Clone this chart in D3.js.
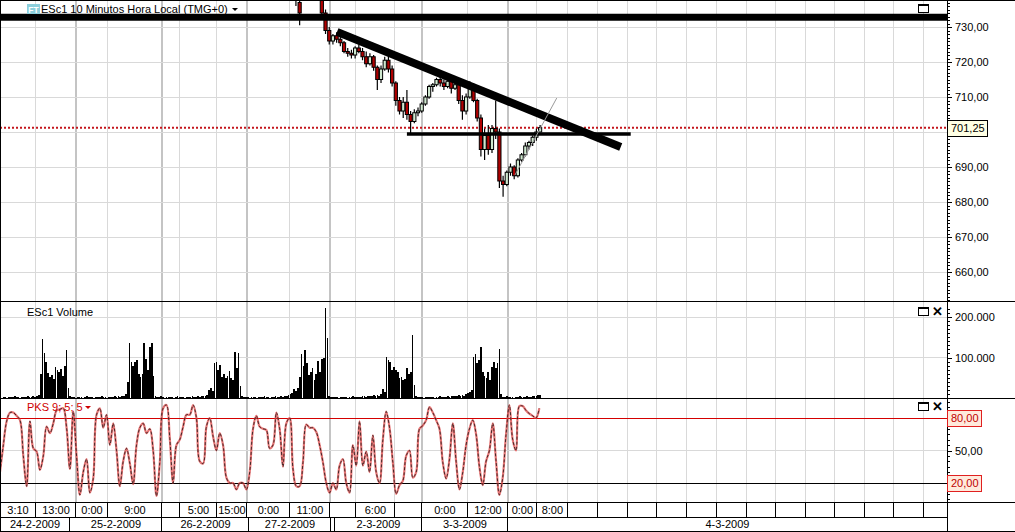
<!DOCTYPE html>
<html><head><meta charset="utf-8">
<script src="https://cdn.jsdelivr.net/npm/d3@7"></script>
<style>
body{margin:0;background:#fff;}
svg{display:block;font-family:"Liberation Sans",Arial,sans-serif;}
</style></head><body>
<svg id="c" width="1015" height="532"></svg>
<script>
// ---------- DATA ----------
const title = "ESc1 10 Minutos Hora Local (TMG+0)";
const volumeTitle = "ESc1 Volume";
const pksTitle = "PKS 9; 5; 5";
// time axis (hours along the chart, weekend compressed)
const timeTickHours  = [0, 9.73, 20.54, 29.19, 43.78, 48.65, 58.65, 66.76, 78.38, 89.19, 96.22, 106.76, 114.05, 126.49, 137.30, 145.14, 153.5, 161.6, 169.7, 177.6, 185.7, 193.8, 201.9, 209.7, 217.8, 225.7, 233.8, 241.6, 249.7];
const timeTickLabels = ["3:10","13:00","0:00","9:00","","5:00","15:00","0:00","11:00","","6:00","","0:00","12:00","0:00","8:00","","","","","","","","","","","","",""];
const dayBreakHours = [20.54, 43.78, 66.76, 89.19, 114.05, 137.30];
const dateCellHours  = [0, 18.9, 43.78, 67.3, 89.46, 90.54, 114.05, 137.30, 256];
const dateCellLabels = ["24-2-2009","25-2-2009","26-2-2009","27-2-2009","","2-3-2009","3-3-2009","4-3-2009"];
const timeDomain = [0, 256];

// price
const priceDomain = [650, 730];
const priceLabels = [730, 720, 710, 690, 680, 670, 660];
const priceGrid = [730, 720, 710, 700, 690, 680, 670, 660];
const lastPrice = 701.25;
const candleStartHour = 80;   // one candle per hour
const candles = [ // [open, high, low, close]
[740,742,736,738],[737,740,730.5,734],[739,744,738.5,743],[743,746,741,745],[745,748,743,744],
[744,746,741,742],[742,744,739,740],[739,741,733,734],[734,735,728,729],[729,730,725,726],
[726,728,725,727.5],[727.5,728.5,725.5,726.5],[726.5,727.5,724.5,725.5],[725.5,726,722.5,723],[723,724,721.5,722.5],
[722.5,723.5,721,722],[722,724.5,721,724],[724,725,722.5,723],[723,724,720.5,721.5],[721.5,723,718.5,719.5],
[719.5,722.5,719,721.5],[721.5,722,717.5,718.5],[718.5,719,712,715],[715,719,714,718],[718,721.5,717.5,720.5],
[720.5,722.5,717,718],[718,719,713,714],[714,714.5,707.5,709],[709,710,705,706],[706,710,704,708.5],
[708.5,712,703.5,705],[705,706,699.5,703],[703,706.5,702.5,705.5],[705.5,707,704.5,706],[706,708.5,705.5,708],
[708,710.5,707.5,710],[710,713.5,709.5,713],[713,714,711.5,713.5],[713.5,715.5,713,715],[715,716,713,714],
[714,715,712,713],[713,715,712.5,714.5],[714.5,715,711,712.5],[712.5,714,712,713.5],[713.5,714,708,709],
[709,710.5,703.5,706],[706,711,705,710],[710,714.5,709.5,713],[713,714,708.5,709],[709,709.5,703,704],
[704,705,693,695],[695,701,692,699],[699,702,693.5,695],[695,702,694,701],[701,709,698,700],
[700,701,684,686],[686,687.5,681.5,685],[685,689,684.5,688.5],[688.5,691,687.5,690],[690,690.5,686.5,687.5],
[687.5,692.5,687,692],[692,694,691.5,693.5],[693.5,697,693,696],[696,697.5,695,697],[697,699,696,698.5],
[698.5,701,697.5,700],[700,702,700,701.25]
];
// drawn lines [hour, price]
const resistanceLine = [[0, 732.8], [256, 732.8]];
const downTrend = [[91.1, 728.6], [167.8, 695.7]];
const supportLine = [[110, 699.4], [170.5, 699.4]];
const thinTrend = [[139.2, 687.7], [150.5, 709.7]];

// volume (thousands), one bar per half hour
const volumeStepHours = 0.5;
const volumeDomain = [0, 200];
const volumeLabels = [200, 100];
const volume = [
2,1,3,2,1,2,3,2,4,2,3,1,2,3,2,5,3,2,4,3,6,8,
60,146,110,89,62,52,58,48,77,70,64,72,55,80,118,25,
4,2,3,1,2,3,2,1,2,4,2,3,2,1,2,3,2,4,3,2,1,2,3,2,4,3,5,3,4,6,10,
40,136,90,80,88,95,60,52,60,136,96,70,127,136,55,5,
3,2,4,2,1,3,2,2,3,1,2,4,2,3,2,1,2,3,2,4,3,2,5,3,4,6,5,8,
20,24,18,86,89,70,81,52,60,49,55,67,50,45,114,75,112,30,
4,2,3,2,1,2,3,2,1,3,2,2,4,3,2,1,2,3,5,2,3,4,3,6,5,8,10,
12,21,18,25,52,109,80,118,86,57,65,75,45,60,91,64,96,100,222,148,5,
3,2,2,3,1,2,3,2,2,1,3,2,4,2,3,2,3,5,4,3,6,5,4,7,5,8,6,9,
21,15,101,95,88,69,77,70,64,49,52,45,48,74,60,64,156,31,
4,2,3,2,1,3,2,2,3,2,1,2,3,4,2,3,2,5,3,4,6,4,5,7,6,8,6,9,12,15,20,
101,109,86,95,127,64,55,49,64,45,77,88,75,86,122,10,
3,2,4,2,3,2,1,3,2,4,3,2,3,4,2,3,5,4,6,8,7
];

// PKS oscillator
const pksStepHours = 0.9;
const pksDomain = [20, 80];
const pksLabelsPlain = [50];
const pksLevels = [80, 20];
const pks = [
30,55,77,85,85,82,78,45,17,77,52,49,32,45,72,66,75,87,88,89,71,33,86,45,9,30,42,11,24,83,
89,71,83,55,75,50,17,40,52,38,19,55,71,75,66,70,50,8,39,89,92,61,20,55,60,72,83,83,92,80,
40,38,72,80,63,50,66,55,25,20,20,14,20,20,14,30,70,82,72,70,69,52,55,85,70,35,75,80,33,17,
17,39,74,71,71,67,55,39,20,11,20,14,36,42,20,11,
55,36,77,36,49,30,64,30,20,60,86,71,39,10,18,22,45,50,25,30,70,73,78,90,85,78,70,39,24,42,
75,40,14,30,55,70,78,65,35,18,40,50,75,40,9,25,65,92,60,50,91,91,87,84,82,80,89
];

// ---------- LAYOUT ----------
const AX = 947;
const MAIN = [0, 301.5], VOL = [301.5, 398.5], PKS = [398.5, 502], AXIS = [502, 531.5];

const x  = d3.scaleLinear().domain(timeDomain).range([0, AX]);
const yP = d3.scaleLinear().domain(priceDomain).range([307, 27]);
const yV = d3.scaleLinear().domain(volumeDomain).range([398, 317]);
const yK = d3.scaleLinear().domain(pksDomain).range([483, 418]);

const loc = d3.formatLocale({decimal:",", thousands:".", grouping:[3], currency:["",""]});
const fPrice = loc.format(".2f"), fVol = loc.format(",d");

const svg = d3.select("#c");
svg.append("rect").attr("width",1015).attr("height",532).attr("fill","#fff");
const defs = svg.append("defs");
function clip(id, r){ defs.append("clipPath").attr("id",id).append("rect")
  .attr("x",0).attr("y",r[0]).attr("width",AX).attr("height",r[1]-r[0]); }
clip("cm", MAIN); clip("cv", VOL); clip("ck", PKS);

// ---------- GRID ----------
const grid = svg.append("g").attr("shape-rendering","crispEdges");
timeTickHours.forEach(h=>{
  if (h <= 0) return;
  const day = dayBreakHours.includes(h);
  grid.append("line").attr("x1",x(h)).attr("x2",x(h)).attr("y1",0).attr("y2",AXIS[0])
    .attr("stroke", day ? "#c4c4c4" : "#d9d9d9").attr("stroke-width", day ? 2 : 1);
});
priceGrid.forEach(p=> grid.append("line").attr("x1",0).attr("x2",AX).attr("y1",yP(p)).attr("y2",yP(p)).attr("stroke","#d9d9d9"));
volumeLabels.forEach(v=> grid.append("line").attr("x1",0).attr("x2",AX).attr("y1",yV(v)).attr("y2",yV(v)).attr("stroke","#d9d9d9"));
pksLabelsPlain.forEach(v=> grid.append("line").attr("x1",0).attr("x2",AX).attr("y1",yK(v)).attr("y2",yK(v)).attr("stroke","#d9d9d9"));

// ---------- MAIN: candles ----------
const gm = svg.append("g").attr("clip-path","url(#cm)");
const line = d3.line().x(d=>x(d[0])).y(d=>yP(d[1]));
gm.append("line").attr("x1",0).attr("x2",AX).attr("y1",yP(lastPrice)).attr("y2",yP(lastPrice))
  .attr("stroke","#c4161c").attr("stroke-width",2).attr("stroke-dasharray","2,2");
const cg = gm.append("g");
candles.forEach((c,i)=>{
  const h = candleStartHour + i, cx = x(h);
  const [o,hi,lo,cl] = c;
  cg.append("line").attr("x1",cx).attr("x2",cx).attr("y1",yP(hi)).attr("y2",yP(lo)).attr("stroke","#000").attr("stroke-width",1.2);
  const top = yP(Math.max(o,cl)), bot = yP(Math.min(o,cl));
  cg.append("rect").attr("x",cx-1.6).attr("y",top).attr("width",3.2).attr("height",Math.max(1,bot-top))
    .attr("fill", cl < o ? "#b00000" : "#cfe8cf").attr("stroke","#000").attr("stroke-width",1);
});
gm.append("path").attr("d",line(resistanceLine)).attr("stroke","#000").attr("stroke-width",7).attr("fill","none");
gm.append("path").attr("d",line(downTrend)).attr("stroke","#000").attr("stroke-width",8).attr("fill","none");
gm.append("path").attr("d",line(supportLine)).attr("stroke","#000").attr("stroke-width",3.5).attr("fill","none");
gm.append("path").attr("d",line(thinTrend)).attr("stroke","#9a9a9a").attr("stroke-width",1).attr("fill","none");

// ---------- VOLUME ----------
svg.append("g").attr("clip-path","url(#cv)").attr("shape-rendering","crispEdges")
  .selectAll("rect").data(volume).join("rect")
  .attr("x",(d,i)=>x(i*volumeStepHours)-0.8).attr("width",1.7)
  .attr("y",d=>yV(d)).attr("height",d=>yV(0)-yV(d)).attr("fill","#000");

// ---------- PKS ----------
const gk = svg.append("g").attr("clip-path","url(#ck)");
pksLevels.forEach((v,i)=> gk.append("line").attr("x1",0).attr("x2",AX).attr("y1",yK(v)).attr("y2",yK(v))
  .attr("stroke", i===0 ? "#d40000" : "#000").attr("stroke-width",1).attr("shape-rendering","crispEdges"));
const kLine = d3.line().x((d,i)=>x(i*pksStepHours)).y(d=>yK(d)).curve(d3.curveCatmullRom.alpha(0.5));
gk.append("path").attr("d",kLine(pks)).attr("fill","none").attr("stroke","#e04848").attr("stroke-width",2.2).attr("opacity",0.75);
gk.append("path").attr("d",kLine(pks)).attr("fill","none").attr("stroke","#111").attr("stroke-width",0.9).attr("stroke-dasharray","3,2").attr("opacity",0.85);

// ---------- FRAME ----------
const fr = svg.append("g").attr("stroke","#000").attr("shape-rendering","crispEdges");
[0.5, VOL[0], PKS[0], AXIS[0], AXIS[1]].forEach(y=> fr.append("line").attr("x1",0).attr("x2",1015).attr("y1",y).attr("y2",y));
fr.append("line").attr("x1",0).attr("x2",AX).attr("y1",517).attr("y2",517);
fr.append("line").attr("x1",0.5).attr("x2",0.5).attr("y1",0).attr("y2",532);
fr.append("line").attr("x1",AX+0.5).attr("x2",AX+0.5).attr("y1",0).attr("y2",532);

// ---------- RIGHT AXES ----------
function styleAxis(g){ g.select(".domain").remove(); g.selectAll("line").attr("stroke","#000").attr("shape-rendering","crispEdges");
  g.selectAll("text").attr("font-size",11).attr("fill","#000").attr("font-family","Liberation Sans, Arial, sans-serif"); }
// price
svg.append("g").attr("transform",`translate(${AX},0)`)
  .call(d3.axisRight(yP).tickValues(d3.range(652,738,1)).tickSize(3).tickFormat("")).call(styleAxis);
svg.append("g").attr("transform",`translate(${AX},0)`)
  .call(d3.axisRight(yP).tickValues(priceLabels).tickSize(5).tickPadding(3).tickFormat(fPrice)).call(styleAxis);
// volume
svg.append("g").attr("transform",`translate(${AX},0)`)
  .call(d3.axisRight(yV).tickValues(d3.range(10,230,10)).tickSize(3).tickFormat("")).call(styleAxis);
svg.append("g").attr("transform",`translate(${AX},0)`)
  .call(d3.axisRight(yV).tickValues(volumeLabels).tickSize(5).tickPadding(3).tickFormat(d=>fVol(d*1000))).call(styleAxis);
// pks
svg.append("g").attr("transform",`translate(${AX},0)`)
  .call(d3.axisRight(yK).tickValues(d3.range(5,100,5)).tickSize(3).tickFormat("")).call(styleAxis);
svg.append("g").attr("transform",`translate(${AX},0)`)
  .call(d3.axisRight(yK).tickValues(pksLabelsPlain).tickSize(5).tickPadding(3).tickFormat(fPrice)).call(styleAxis);

// value boxes
function box(y, txt, fill, stroke, color, w){
  const g = svg.append("g");
  g.append("rect").attr("x",AX+0.5).attr("y",Math.round(y)-7.5).attr("width",w).attr("height",16)
    .attr("fill",fill).attr("stroke",stroke).attr("shape-rendering","crispEdges");
  g.append("text").attr("x",AX+4).attr("y",y).attr("dy","0.36em").attr("font-size",11).attr("fill",color).text(txt);
}
box(yP(lastPrice), fPrice(lastPrice), "#ffffe4", "#000", "#000", 40);
box(yK(pksLevels[0]), fPrice(pksLevels[0]), "#ffeadc", "#e02020", "#c00000", 34);
box(yK(pksLevels[1]), fPrice(pksLevels[1]), "#ffeadc", "#e02020", "#c00000", 34);

// ---------- BOTTOM TIME AXIS ----------
const ta = svg.append("g").attr("font-size",11).attr("fill","#000");
timeTickHours.forEach((h,i)=>{
  const h2 = i+1 < timeTickHours.length ? timeTickHours[i+1] : timeDomain[1];
  if (i>0) ta.append("line").attr("x1",x(h)).attr("x2",x(h)).attr("y1",AXIS[0]).attr("y2",517).attr("stroke","#000").attr("shape-rendering","crispEdges");
  if (timeTickLabels[i]) ta.append("text").attr("x",(x(h)+x(h2))/2).attr("y",510).attr("dy","0.36em").attr("text-anchor","middle").text(timeTickLabels[i]);
});
dateCellLabels.forEach((lab,i)=>{
  const a = dateCellHours[i], b = dateCellHours[i+1];
  if (i>0) ta.append("line").attr("x1",x(a)).attr("x2",x(a)).attr("y1",517).attr("y2",AXIS[1]).attr("stroke","#000").attr("shape-rendering","crispEdges");
  if (lab) ta.append("text").attr("x",(x(a)+x(b))/2).attr("y",524.5).attr("dy","0.36em").attr("text-anchor","middle").text(lab);
});

// ---------- TITLES & ICONS ----------
const ft = svg.append("g");
ft.append("rect").attr("x",27).attr("y",4).attr("width",13).attr("height",10).attr("fill","#8ccfdc");
ft.append("text").attr("x",33.5).attr("y",12.5).attr("text-anchor","middle").attr("font-size",8.5).attr("font-weight","bold").attr("fill","#fff").text("FT");
svg.append("text").attr("x",41).attr("y",13).attr("font-size",11).attr("fill","#000").text(title);
svg.append("path").attr("d","M232,8 L238,8 L235,11 Z").attr("fill","#000");
svg.append("text").attr("x",27).attr("y",316).attr("font-size",11).attr("fill","#000").text(volumeTitle);
svg.append("text").attr("x",27).attr("y",411).attr("font-size",11).attr("fill","#d00000").text(pksTitle);
svg.append("path").attr("d","M85,406 L91,406 L88,409 Z").attr("fill","#d00000");

function winIcon(y, withX){
  const g = svg.append("g").attr("shape-rendering","crispEdges");
  g.append("rect").attr("x",918.5).attr("y",y+0.5).attr("width",10).attr("height",8).attr("fill","#fff").attr("stroke","#000");
  g.append("line").attr("x1",918.5).attr("x2",928.5).attr("y1",y+1.5).attr("y2",y+1.5).attr("stroke","#000");
  if (withX) g.append("text").attr("x",932).attr("y",y+9).attr("font-size",13).attr("font-weight","bold").attr("fill","#000").text("✕");
}
winIcon(4, false); winIcon(307, true); winIcon(402, true);
</script>
</body></html>
